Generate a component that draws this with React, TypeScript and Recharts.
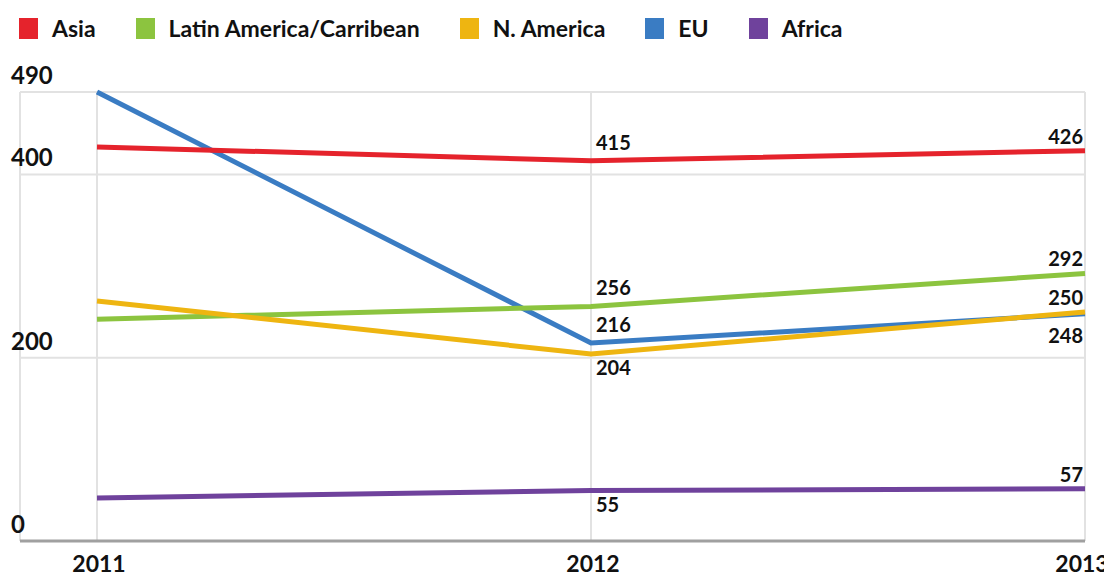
import React from "react";
import { LineChart, Line, XAxis, YAxis, CartesianGrid, LabelList } from "recharts";

const years = ["2011", "2012", "2013"];
const asia = [430, 415, 426];
const latinAmerica = [242, 256, 292];
const northAmerica = [262, 204, 250];
const eu = [490, 216, 248];
const africa = [47, 55, 57];
const yTicks = [0, 200, 400, 490];

const data = years.map((y, i) => ({
  year: y,
  asia: asia[i],
  latin: latinAmerica[i],
  nam: northAmerica[i],
  eu: eu[i],
  africa: africa[i],
}));

const FONT = "Lato, 'DejaVu Sans', sans-serif";

const legendItems = [
  { name: "Asia", color: "#e5232c" },
  { name: "Latin America/Carribean", color: "#8cc43f" },
  { name: "N. America", color: "#eeb511" },
  { name: "EU", color: "#3a7cc3" },
  { name: "Africa", color: "#6f429c" },
];

// draw order and label placement for points 2012, 2013
const series = [
  { key: "eu", color: "#3a7cc3", place: [null, "above", "below"] },
  { key: "latin", color: "#8cc43f", place: [null, "above", "above"] },
  { key: "nam", color: "#eeb511", place: [null, "below", "above"] },
  { key: "asia", color: "#e5232c", place: [null, "above", "above"] },
  { key: "africa", color: "#6f429c", place: [null, "below", "above"] },
];

const makeLabel = (place: (string | null)[]) => (props: any) => {
  const { x, y, index, value } = props;
  const p = place[index];
  if (!p) return null;
  const last = index === years.length - 1;
  const tx = last ? x - 2 : x + 5;
  let ty: number;
  if (last) ty = p === "above" ? y - 7 : y + 29;
  else ty = p === "above" ? y - 11 : y + 21;
  return (
    <text
      x={tx}
      y={ty}
      textAnchor={last ? "end" : "start"}
      fontFamily={FONT}
      fontWeight={700}
      fontSize={20}
      fill="#111"
    >
      {value}
    </text>
  );
};

const YTick = (props: any) => {
  const { y, payload } = props;
  return (
    <text x={3} y={y - 8} textAnchor="start" fontFamily={FONT} fontWeight={700} fontSize={24} fill="#111">
      {payload.value}
    </text>
  );
};

const XTick = (props: any) => {
  const { x, y, payload, index } = props;
  const last = index === years.length - 1;
  return (
    <text
      x={last ? x - 3 : x + 2}
      y={y + 23}
      textAnchor="middle"
      fontFamily={FONT}
      fontWeight={700}
      fontSize={23}
      fill="#111"
    >
      {payload.value}
    </text>
  );
};

export default function App() {
  return (
    <div style={{ width: 1104, height: 569, position: "relative", background: "#fff" }}>
      <div
        style={{
          position: "absolute",
          left: 11,
          top: 6,
          display: "flex",
          alignItems: "center",
          fontFamily: FONT,
          fontWeight: 700,
          fontSize: 23,
          color: "#111",
          whiteSpace: "nowrap",
        }}
      >
        {legendItems.map((it) => (
          <div key={it.name} style={{ display: "flex", alignItems: "center", marginRight: 40 }}>
            <div style={{ width: 19, height: 21, background: it.color, marginRight: 14, filter: "blur(0.6px)" }} />
            <span>{it.name}</span>
          </div>
        ))}
      </div>
      <LineChart
        width={1104}
        height={569}
        data={data}
        margin={{ top: 84, right: 27, bottom: 6, left: 0 }}
      >
        <CartesianGrid stroke="#e2e2e2" strokeWidth={2} vertical={true} horizontal={true} />
        <XAxis
          dataKey="year"
          padding={{ left: 77, right: 0 }}
          axisLine={{ stroke: "#a0a0a0", strokeWidth: 3 }}
          tickLine={false}
          tick={<XTick />}
          height={30}
          interval={0}
        />
        <YAxis
          domain={[0, 490]}
          ticks={yTicks}
          width={12}
          axisLine={false}
          tickLine={false}
          tick={<YTick />}
          interval={0}
        />
        {series.map((s) => (
          <Line
            key={s.key}
            type="linear"
            dataKey={s.key}
            stroke={s.color}
            strokeWidth={5}
            dot={false}
            activeDot={false}
            isAnimationActive={false}
          >
            <LabelList dataKey={s.key} content={makeLabel(s.place)} />
          </Line>
        ))}
      </LineChart>
    </div>
  );
}
